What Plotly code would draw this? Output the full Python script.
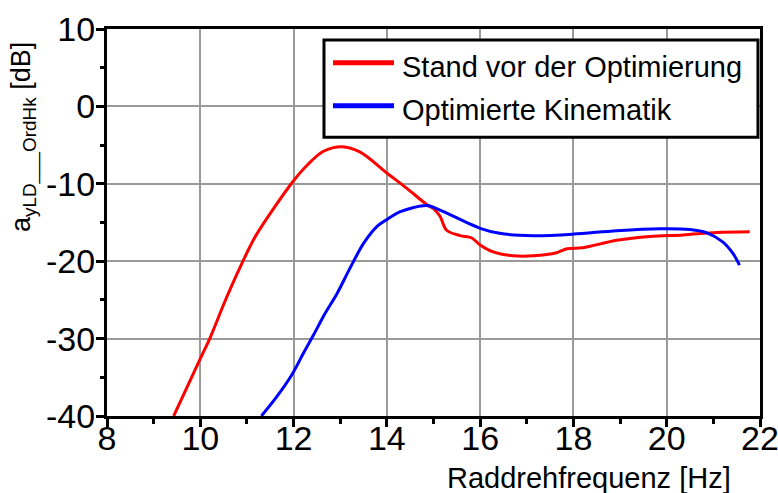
import plotly.graph_objects as go

# Frequenzgang vor und nach der Optimierung
freq_alt = [9.43, 10.0, 10.21, 10.5, 10.7, 10.89, 11.05, 11.2, 11.57, 12.0, 12.29, 12.64,
            13.04, 13.43, 14.0, 14.43, 14.86, 15.0, 15.14, 15.28, 15.57, 15.82, 16.0, 16.28,
            16.71, 17.14, 17.64, 17.86, 18.2, 18.93, 19.64, 20.35, 21.07, 21.78]
pegel_alt = [-40.0, -32.6, -29.9, -25.6, -22.8, -20.3, -18.3, -16.6, -13.2, -9.6, -7.6, -5.8,
             -5.2, -5.9, -8.6, -10.6, -12.7, -13.2, -14.2, -16.0, -16.7, -17.0, -17.9, -18.8,
             -19.3, -19.3, -18.9, -18.4, -18.25, -17.3, -16.8, -16.6, -16.3, -16.2]

freq_opt = [11.31, 11.64, 11.96, 12.21, 12.43, 12.68, 12.93, 13.21, 13.5, 13.79, 14.0, 14.29,
            14.86, 15.14, 16.0, 16.42, 17.14, 18.0, 18.93, 19.85, 20.5, 20.85, 21.2, 21.42, 21.56]
pegel_opt = [-40.0, -37.5, -34.7, -31.9, -29.5, -26.7, -24.2, -20.9, -17.7, -15.5, -14.6, -13.6,
             -12.8, -13.4, -15.75, -16.4, -16.7, -16.5, -16.05, -15.8, -15.9, -16.3, -17.5,
             -19.0, -20.5]

x_ticks = [8, 10, 12, 14, 16, 18, 20, 22]
y_ticks = [10, 0, -10, -20, -30, -40]
y_ticktext = [str(v) for v in y_ticks]  # einfacher Bindestrich als Minuszeichen

x_bereich = [8, 22]
y_bereich = [-40, 10]

namen = ["Stand vor der Optimierung", "Optimierte Kinematik"]
farben = ["#ff0000", "#0000ff"]

FONT = "Liberation Sans, Arial, sans-serif"

fig = go.Figure()
fig.add_trace(go.Scatter(x=freq_alt, y=pegel_alt, mode="lines", name=namen[0],
                         line=dict(color=farben[0], width=3, shape="spline", smoothing=0.9)))
fig.add_trace(go.Scatter(x=freq_opt, y=pegel_opt, mode="lines", name=namen[1],
                         line=dict(color=farben[1], width=3, shape="spline", smoothing=0.9)))

achse = dict(showline=True, linecolor="black", linewidth=3, mirror=True,
             gridcolor="#9a9a9a", gridwidth=2, zeroline=False, automargin=False,
             ticks="outside", ticklen=8, tickwidth=3, tickcolor="black",
             ticklabeloverflow="allow",
             tickfont=dict(family=FONT, size=34, color="black"))

fig.update_layout(
    width=778, height=493,
    margin=dict(l=107, r=18, t=29, b=77, autoexpand=False),
    paper_bgcolor="white", plot_bgcolor="white",
    font=dict(family=FONT, color="black"),
    showlegend=False,
    xaxis=dict(range=x_bereich, tickvals=x_ticks, ticklabelstandoff=-18,
               minor=dict(dtick=1, tick0=8, ticks="outside", ticklen=5, tickwidth=3,
                          tickcolor="black", showgrid=False), **achse),
    yaxis=dict(range=y_bereich, tickvals=y_ticks, ticktext=y_ticktext, ticklabelstandoff=-6,
               minor=dict(dtick=5, tick0=0, ticks="outside", ticklen=4, tickwidth=3,
                          tickcolor="black", showgrid=False), **achse),
    # zweite Achsen zeichnen den inneren Teil der Teilstriche
    xaxis2=dict(overlaying="x", anchor="y", side="bottom", range=x_bereich, tickvals=x_ticks,
                ticks="inside", ticklen=7, tickwidth=3, tickcolor="black", automargin=False,
                showticklabels=False, showgrid=False, showline=False, zeroline=False,
                minor=dict(dtick=1, tick0=8, ticks="inside", ticklen=5, tickwidth=3,
                           tickcolor="black")),
    yaxis2=dict(overlaying="y", anchor="x", side="left", range=y_bereich, tickvals=y_ticks,
                ticks="inside", ticklen=8, tickwidth=3, tickcolor="black", automargin=False,
                showticklabels=False, showgrid=False, showline=False, zeroline=False,
                minor=dict(dtick=5, tick0=0, ticks="inside", ticklen=4, tickwidth=3,
                           tickcolor="black")),
)

# Legende: Rahmen, Linienmuster und Beschriftungen
fig.add_shape(type="rect", xref="paper", yref="paper", x0=0.3323, x1=0.9969, y0=0.720, y1=0.9716,
              line=dict(color="black", width=3), fillcolor="white", layer="above")
for name, farbe, y_pos in zip(namen, farben, [0.9129, 0.8018]):
    fig.add_shape(type="line", xref="paper", yref="paper", x0=0.3461, x1=0.4395,
                  y0=y_pos, y1=y_pos, line=dict(color=farbe, width=5), layer="above")
    fig.add_annotation(text=name, xref="paper", yref="paper", x=0.4490, xanchor="left",
                       y=y_pos - 0.012, yanchor="middle", showarrow=False,
                       font=dict(family=FONT, size=29, color="black"))

fig.add_annotation(text="Raddrehfrequenz [Hz]", xref="paper", yref="paper",
                   x=0.738, xanchor="center", y=-0.160, yanchor="middle", showarrow=False,
                   font=dict(family=FONT, size=29, color="black"))
fig.add_annotation(text="a<sub>yLD___OrdHk</sub> [dB]", xref="paper", yref="paper",
                   x=-0.127, xanchor="center", y=0.721, yanchor="middle", textangle=-90,
                   showarrow=False, font=dict(family=FONT, size=27, color="black"))

fig.write_html("out.html")
